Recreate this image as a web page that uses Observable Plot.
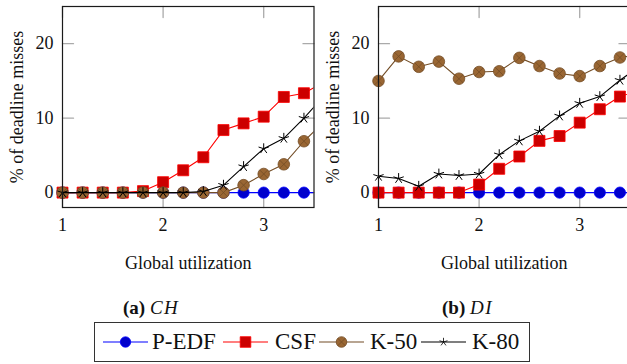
<!DOCTYPE html>
<html><head><meta charset="utf-8">
<script src="https://cdn.jsdelivr.net/npm/d3@7"></script>
<script src="https://cdn.jsdelivr.net/npm/@observablehq/plot@0.6"></script>
<style>
body{margin:0;background:#fff;}
#wrap{position:relative;width:627px;height:364px;overflow:hidden;font-family:"Liberation Serif","Times New Roman",serif;color:#111;}
#wrap svg text{font-family:"Liberation Serif","Times New Roman",serif;}
.panel{position:absolute;top:0;}
.cap{position:absolute;top:298px;font-size:19px;line-height:19px;white-space:nowrap;}
.cap i{letter-spacing:1.5px;}
#legend{position:absolute;left:94px;top:322px;width:436px;height:40px;box-sizing:border-box;border:1px solid #333;}
.lgsw{position:absolute;top:332px;}
.lgtx{position:absolute;top:331px;font-size:23px;line-height:22px;white-space:nowrap;}
</style></head>
<body>
<div id="wrap"></div>
<script>
// ---- data ----
const utilization = [1.0, 1.2, 1.4, 1.6, 1.8, 2.0, 2.2, 2.4, 2.6, 2.8, 3.0, 3.2, 3.4, 3.6];
const seriesNames = ["P-EDF", "CSF", "K-50", "K-80"];
// (a) CH
const chPEDF = [0, 0, 0, 0, 0, 0, 0, 0, 0, 0, 0, 0, 0, 0];
const chCSF  = [0, 0, 0, 0, 0.2, 1.4, 3.0, 4.75, 8.4, 9.3, 10.2, 12.85, 13.35, 14.85];
const chK50  = [0, 0, 0, 0, 0, 0, 0, 0, 0, 1.0, 2.5, 3.8, 6.9, 9.5];
const chK80  = [0, 0, 0, 0, 0, 0, 0, 0.15, 1.0, 3.5, 5.9, 7.3, 10.0, 13.0];
// (b) DI
const diPEDF = [0, 0, 0, 0, 0, 0, 0, 0, 0, 0, 0, 0, 0, 0];
const diCSF  = [0, 0, 0, 0, 0, 1.08, 3.2, 4.85, 6.95, 7.6, 9.4, 11.2, 12.9, 13.8];
const diK50  = [15.0, 18.3, 16.9, 17.6, 15.3, 16.2, 16.3, 18.1, 17.0, 16.0, 15.65, 17.0, 18.15, 18.6];
const diK80  = [2.2, 1.9, 0.85, 2.5, 2.3, 2.5, 5.1, 6.95, 8.25, 10.3, 12.0, 12.9, 15.1, 17.0];
const xTicks = [1, 2, 3];
const yTicks = [0, 10, 20];
const xDomain = [1, 3.5];
const yDomain = [-2, 25];
const xLabel = "Global utilization";
const yLabel = "% of deadline misses";
const captions = [["(a)", "CH"], ["(b)", "DI"]];

// ---- styles ----
const FONT = "'Liberation Serif', 'Times New Roman', serif";
const styles = {
  "P-EDF": {line: "#0000ff", fill: "#0000cc", stroke: "#0000ff", kind: "circle"},
  "CSF":   {line: "#ff0000", fill: "#cc0000", stroke: "#ff0000", kind: "square"},
  "K-50":  {line: "#734d26", fill: "#996633", stroke: "#734d26", kind: "otimes"},
  "K-80":  {line: "#000000", fill: "none",    stroke: "#000000", kind: "star"}
};

const tickShape = {draw(ctx, l) { ctx.moveTo(0, 0); ctx.lineTo(0, -l); }};
const timesSym = {draw(ctx, size) {
  const r = Math.sqrt(size / Math.PI), a = r / Math.SQRT2;
  ctx.moveTo(-a, -a); ctx.lineTo(a, a); ctx.moveTo(a, -a); ctx.lineTo(-a, a);
}};
const starSym = {draw(ctx, size) {
  const r = Math.sqrt(size / Math.PI);
  for (let k = 0; k < 5; k++) {
    const a = 2 * Math.PI * k / 5;
    ctx.moveTo(0, 0); ctx.lineTo(r * Math.sin(a), -r * Math.cos(a));
  }
}};

function seriesMarks(name, values) {
  const s = styles[name];
  const data = utilization.map((u, i) => ({u, v: values[i]}));
  const vis = data.filter(d => d.u <= xDomain[1]);
  const marks = [Plot.line(data, {x: "u", y: "v", stroke: s.line, strokeWidth: 1.1, clip: true})];
  if (s.kind === "circle") {
    marks.push(Plot.dot(vis, {x: "u", y: "v", r: 5.6, symbol: "circle", fill: s.fill, stroke: s.stroke, strokeWidth: 0.8}));
  } else if (s.kind === "square") {
    marks.push(Plot.dot(vis, {x: "u", y: "v", r: 6.2, symbol: "square", fill: s.fill, stroke: s.stroke, strokeWidth: 0.8}));
  } else if (s.kind === "otimes") {
    marks.push(Plot.dot(vis, {x: "u", y: "v", r: 5.8, symbol: "circle", fill: s.fill, stroke: s.stroke, strokeWidth: 0.8}));
    marks.push(Plot.dot(vis, {x: "u", y: "v", r: 5.8, symbol: timesSym, fill: "none", stroke: s.stroke, strokeWidth: 0.8}));
  } else {
    marks.push(Plot.dot(vis, {x: "u", y: "v", r: 5.4, symbol: starSym, fill: "none", stroke: s.stroke, strokeWidth: 1}));
  }
  return marks;
}

function panel(seriesValues) {
  const tickStyle = {shape: tickShape, length: 11, anchor: "start", stroke: "#aaaaaa", strokeWidth: 1.3};
  return Plot.plot({
    width: 320, height: 280,
    marginLeft: 62, marginRight: 6.5, marginTop: 6, marginBottom: 73,
    style: {fontFamily: FONT, fontSize: "18px", background: "transparent", color: "#111", overflow: "visible"},
    x: {domain: xDomain, ticks: xTicks, tickSize: 0, tickPadding: 11, label: null, tickFormat: d => String(d)},
    y: {domain: yDomain, ticks: yTicks, tickSize: 0, tickPadding: 9, label: null, tickFormat: d => String(d)},
    marks: [
      Plot.vector(xTicks, {x: d => d, frameAnchor: "bottom", rotate: 0, ...tickStyle}),
      Plot.vector(xTicks, {x: d => d, frameAnchor: "top", rotate: 180, ...tickStyle}),
      Plot.vector(yTicks, {y: d => d, frameAnchor: "left", rotate: 90, ...tickStyle}),
      Plot.vector(yTicks, {y: d => d, frameAnchor: "right", rotate: -90, ...tickStyle}),
      ...seriesNames.flatMap((n, i) => seriesMarks(n, seriesValues[i])),
      Plot.frame({stroke: "#1a1a1a", strokeWidth: 1.2}),
      Plot.text([xLabel], {frameAnchor: "bottom", textAnchor: "middle", dy: 61, fontSize: 18, fontFamily: FONT, fill: "#111"}),
      Plot.text([yLabel], {frameAnchor: "left", textAnchor: "middle", dx: -44.8, rotate: -90, fontSize: 18, fontFamily: FONT, fill: "#111"})
    ]
  });
}

const wrap = document.getElementById("wrap");
const panels = [[chPEDF, chCSF, chK50, chK80], [diPEDF, diCSF, diK50, diK80]];
const panelLeft = [0, 315.5];
panels.forEach((p, i) => {
  const el = panel(p);
  el.classList.add("panel");
  el.style.left = panelLeft[i] + "px";
  wrap.appendChild(el);
});

// captions
const capLeft = [123, 442];
captions.forEach(([a, b], i) => {
  const d = document.createElement("div");
  d.className = "cap";
  d.style.left = capLeft[i] + "px";
  d.innerHTML = `<b>${a}</b> <i>${b}</i>`;
  wrap.appendChild(d);
});

// legend
const lg = document.createElement("div"); lg.id = "legend"; wrap.appendChild(lg);
const swX = [103, 223, 319, 421];
const txX = [152, 275, 370, 472];
const NS = "http://www.w3.org/2000/svg";
seriesNames.forEach((n, i) => {
  const s = styles[n];
  const svg = document.createElementNS(NS, "svg");
  svg.setAttribute("width", 46); svg.setAttribute("height", 20);
  svg.setAttribute("class", "lgsw");
  svg.style.left = swX[i] + "px";
  const ln = document.createElementNS(NS, "line");
  Object.entries({x1: 0, x2: 45, y1: 10, y2: 10, stroke: s.line, "stroke-width": 1.1}).forEach(([k, v]) => ln.setAttribute(k, v));
  svg.appendChild(ln);
  const g = document.createElementNS(NS, "g");
  g.setAttribute("transform", "translate(22.5,10)");
  const path = document.createElementNS(NS, "path");
  const p = d3.path();
  if (s.kind === "circle") { p.arc(0, 0, 5.2, 0, 2 * Math.PI); }
  else if (s.kind === "square") { p.rect(-5.3, -5.3, 10.6, 10.6); }
  else if (s.kind === "otimes") { p.arc(0, 0, 5.3, 0, 2 * Math.PI); }
  else { starSym.draw(p, Math.PI * 4.2 * 4.2); }
  path.setAttribute("d", p.toString());
  path.setAttribute("fill", s.fill); path.setAttribute("stroke", s.stroke); path.setAttribute("stroke-width", 0.8);
  g.appendChild(path);
  if (s.kind === "otimes") {
    const p2 = d3.path(); timesSym.draw(p2, Math.PI * 5.3 * 5.3);
    const x = document.createElementNS(NS, "path");
    x.setAttribute("d", p2.toString()); x.setAttribute("stroke", s.stroke); x.setAttribute("stroke-width", 0.8); x.setAttribute("fill", "none");
    g.appendChild(x);
  }
  svg.appendChild(g);
  wrap.appendChild(svg);
  const t = document.createElement("div");
  t.className = "lgtx"; t.style.left = txX[i] + "px"; t.textContent = n;
  wrap.appendChild(t);
});
</script>
</body></html>
